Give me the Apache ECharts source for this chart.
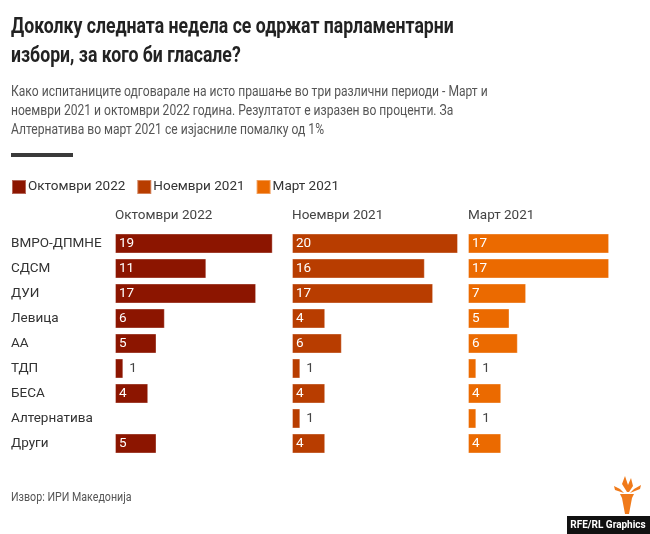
<!DOCTYPE html>
<html><head><meta charset="utf-8">
<script src="https://cdn.jsdelivr.net/npm/echarts@6/dist/echarts.min.js"></script>
<style>html,body{margin:0;padding:0;background:#fff}#c{width:650px;height:534px}</style>
</head><body><div id="c"></div>
<script>
const categories = ['ВМРО-ДПМНЕ','СДСМ','ДУИ','Левица','АА','ТДП','БЕСА','Алтернатива','Други'];
const seriesNames = ['Октомври 2022','Ноември 2021','Март 2021'];
const oct2022 = [19, 11, 17, 6, 5, 1, 4, null, 5];
const nov2021 = [20, 16, 17, 4, 6, 1, 4, 1, 4];
const mar2021 = [17, 17, 7, 5, 6, 1, 4, 1, 4];
const colors = ['#8c1500', '#b83d00', '#eb6a00'];
const FONT = 'Roboto';
const titleText = 'Доколку следната недела се одржат парламентарни\nизбори, за кого би гласале?';
const subText = 'Како испитаниците одговарале на исто прашање во три различни периоди - Март и\nноември 2021 и октомври 2022 година. Резултатот е изразен во проценти. За\nАлтернатива во март 2021 се изјасниле помалку од 1%';
const sourceText = 'Извор: ИРИ Македонија';

const chart = echarts.init(document.getElementById('c'));
const lefts = [115, 292, 468];
const grids = lefts.map(l => ({left: l, top: 231, width: 166, height: 225}));
const xAxes = lefts.map((l, i) => ({gridIndex: i, type: 'value', min: 0, max: 20, show: false}));
const yAxes = lefts.map((l, i) => ({
  gridIndex: i, type: 'category', data: categories, inverse: true,
  axisLine: {show: false}, axisTick: {show: false}, splitLine: {show: false},
  axisLabel: i === 0 ? {show: true, align: 'left', margin: 104, fontSize: 13.5, color: '#333', fontFamily: FONT} : {show: false}
}));
const allData = [oct2022, nov2021, mar2021];
const series = allData.map((arr, i) => ({
  name: seriesNames[i], type: 'bar', xAxisIndex: i, yAxisIndex: i, barWidth: 20,
  itemStyle: {color: colors[i], borderColor: 'rgba(255,255,255,0.35)', borderWidth: 1},
  data: arr.map(v => v == null ? null : {
    value: v,
    label: v <= 1 ? {show: true, position: 'right', distance: 6, color: '#444'} :
      {show: true, position: 'insideLeft', distance: 4, color: '#fff'}
  }),
  label: {fontSize: 13.5, fontFamily: FONT},
  emphasis: {disabled: true}
}));

chart.setOption({
  animation: false,
  legend: {left: 6, top: 174, itemWidth: 14, itemHeight: 14, itemGap: 11, icon: 'rect',
    textStyle: {fontSize: 13.5, color: '#333', fontFamily: FONT, padding: [0,0,0,-3]}, data: seriesNames},
  grid: grids, xAxis: xAxes, yAxis: yAxes, series: series,
  graphic: [
    {type: 'text', x: 11, y: 13, scaleX: 0.785, style: {text: titleText, fontSize: 22.5, fontWeight: 'bold', fill: '#222', fontFamily: FONT, lineHeight: 29, verticalAlign: 'top'}},
    {type: 'text', x: 11, y: 83, scaleX: 0.78, style: {text: subText, fontSize: 15.5, fill: '#555', fontFamily: FONT, lineHeight: 19, verticalAlign: 'top'}},
    {type: 'rect', shape: {x: 11, y: 153, width: 62, height: 4}, style: {fill: '#3a3a3a'}},
    ...seriesNames.map((n, i) => ({type: 'text', x: lefts[i], y: 216, style: {text: n, fontSize: 13.5, fill: '#444', fontFamily: FONT, verticalAlign: 'middle'}})),
    {type: 'text', x: 11, y: 498, scaleX: 0.82, style: {text: sourceText, fontSize: 13, fill: '#555', fontFamily: FONT, verticalAlign: 'middle'}},
    {type: 'rect', shape: {x: 567, y: 516, width: 83, height: 18}, style: {fill: '#111'}},
    {type: 'text', x: 608, y: 525, style: {text: 'RFE/RL Graphics', fontSize: 10, fontWeight: 'bold', fill: '#fff', fontFamily: FONT, align: 'center', verticalAlign: 'middle'}},
    {type: 'polygon', shape: {points: [[622,498],[632,498],[629,514],[625,514]]}, style: {fill: '#f07a1a'}},
    {type: 'polygon', shape: {points: [[620,494],[634,494],[632,498],[622,498]]}, style: {fill: '#f07a1a'}},
    {type: 'polygon', shape: {points: [[627,492],[622,484],[625,476],[628,485],[631,478],[633,486],[629,492]]}, style: {fill: '#f07a1a'}},
    {type: 'polygon', shape: {points: [[624,493],[615,490],[614,486],[620,489]]}, style: {fill: '#f07a1a'}},
    {type: 'polygon', shape: {points: [[630,493],[640,489],[641,485],[634,489]]}, style: {fill: '#f07a1a'}}
  ]
});
</script></body></html>
